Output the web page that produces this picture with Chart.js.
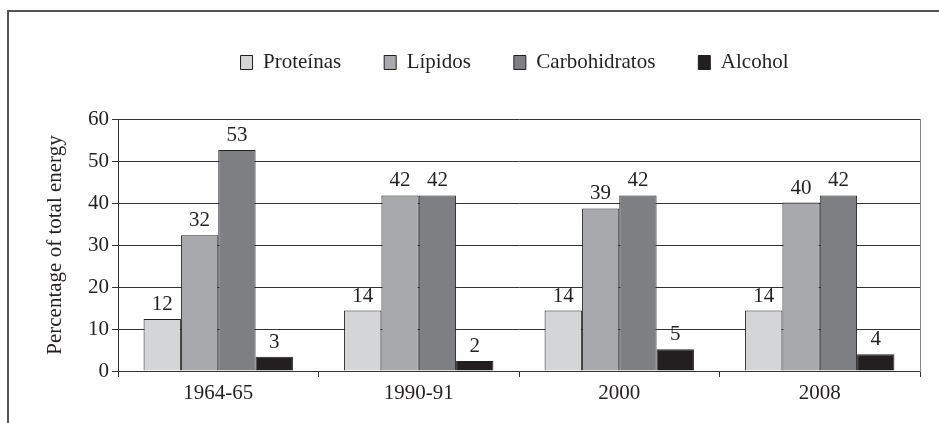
<!DOCTYPE html>
<html>
<head>
<meta charset="utf-8">
<script src="https://cdn.jsdelivr.net/npm/chart.js@4"></script>
<style>
  body { margin: 0; background: #fff; }
  #wrap { position: relative; width: 939px; height: 423px; overflow: hidden; }
  #frame { position: absolute; left: 7px; top: 10px; width: 960px; height: 440px;
           border-left: 2px solid #555; border-top: 2px solid #555; }
  canvas { position: absolute; left: 0; top: 0; }
</style>
</head>
<body>
<div id="wrap">
  <div id="frame"></div>
  <canvas id="grafico" width="939" height="423"></canvas>
</div>
<script>
// Datos del gráfico
const periodos = ['1964-65', '1990-91', '2000', '2008'];
const proteinas = [12.4, 14.4, 14.4, 14.4];
const lipidos = [32.3, 41.8, 38.7, 40.1];
const carbohidratos = [52.6, 41.8, 41.8, 41.8];
const alcohol = [3.4, 2.4, 5.2, 4.0];
const ticksY = [0, 10, 20, 30, 40, 50, 60];

const fuente = { family: "'Liberation Serif', 'Times New Roman', serif", size: 21 };
const tinta = '#231f20';

Chart.defaults.font = fuente;
Chart.defaults.color = tinta;

// etiquetas de valor encima de cada barra
const etiquetas = {
  id: 'etiquetas',
  afterDatasetsDraw(chart) {
    const ctx = chart.ctx;
    ctx.save();
    ctx.font = '21px ' + fuente.family;
    ctx.fillStyle = tinta;
    ctx.textAlign = 'center';
    ctx.textBaseline = 'alphabetic';
    chart.data.datasets.forEach((ds, i) => {
      chart.getDatasetMeta(i).data.forEach((bar, j) => {
        ctx.fillText(Math.round(ds.data[j]), bar.x, bar.y - 9);
      });
    });
    ctx.restore();
  }
};

// ajustar alto y posición de la leyenda
const leyenda = {
  id: 'leyenda',
  beforeLayout(chart) {
    const lg = chart.legend;
    if (lg && !lg._parcheado) {
      const fit = lg.fit;
      lg.fit = function () { fit.call(this); this.height = 110; };
      lg._parcheado = true;
    }
  },
  afterLayout(chart) {
    const lg = chart.legend;
    lg.left += 35;
    lg.right += 35;
  }
};

const ctx = document.getElementById('grafico').getContext('2d');
new Chart(ctx, {
  type: 'bar',
  data: {
    labels: periodos,
    datasets: [
      { label: 'Proteínas', data: proteinas, backgroundColor: '#d4d5d7' },
      { label: 'Lípidos', data: lipidos, backgroundColor: '#a8a9ac' },
      { label: 'Carbohidratos', data: carbohidratos, backgroundColor: '#7e7f83' },
      { label: 'Alcohol', data: alcohol, backgroundColor: '#231f20' }
    ].map(d => Object.assign(d, { borderColor: tinta, borderWidth: 1, barPercentage: 1, categoryPercentage: 0.745 }))
  },
  options: {
    responsive: false,
    animation: false,
    layout: { padding: { left: 39, right: 19, top: 9, bottom: 0 } },
    plugins: {
      legend: {
        display: true,
        position: 'top',
        labels: { boxWidth: 12, boxHeight: 14, padding: 43, color: tinta, font: fuente }
      },
      tooltip: { enabled: false },
      title: { display: false }
    },
    scales: {
      x: {
        grid: { display: true, offset: true, drawOnChartArea: false, drawTicks: true, tickLength: 6, color: '#333' },
        border: { display: true, color: '#333', width: 1 },
        ticks: { padding: 4, color: tinta, font: fuente, maxRotation: 0 },
        afterFit(scale) { scale.height = 52; }
      },
      y: {
        min: 0,
        max: 60,
        afterBuildTicks(scale) { scale.ticks = ticksY.map(v => ({ value: v })); },
        grid: { color: '#333', lineWidth: 1, drawTicks: true, tickLength: 6 },
        border: { display: true, color: '#333', width: 1 },
        ticks: { padding: 3, color: tinta, font: fuente },
        title: { display: true, text: 'Percentage of total energy', color: tinta, font: fuente, padding: { top: 4, bottom: 4 } },
        afterFit(scale) { scale.width = 79; }
      },
      y2: {
        position: 'right',
        min: 0,
        max: 60,
        grid: { display: false, drawOnChartArea: false, drawTicks: false },
        border: { display: true, color: '#888', width: 1 },
        ticks: { display: false },
        afterFit(scale) { scale.width = 0; }
      }
    }
  },
  plugins: [etiquetas, leyenda]
});
</script>
</body>
</html>
